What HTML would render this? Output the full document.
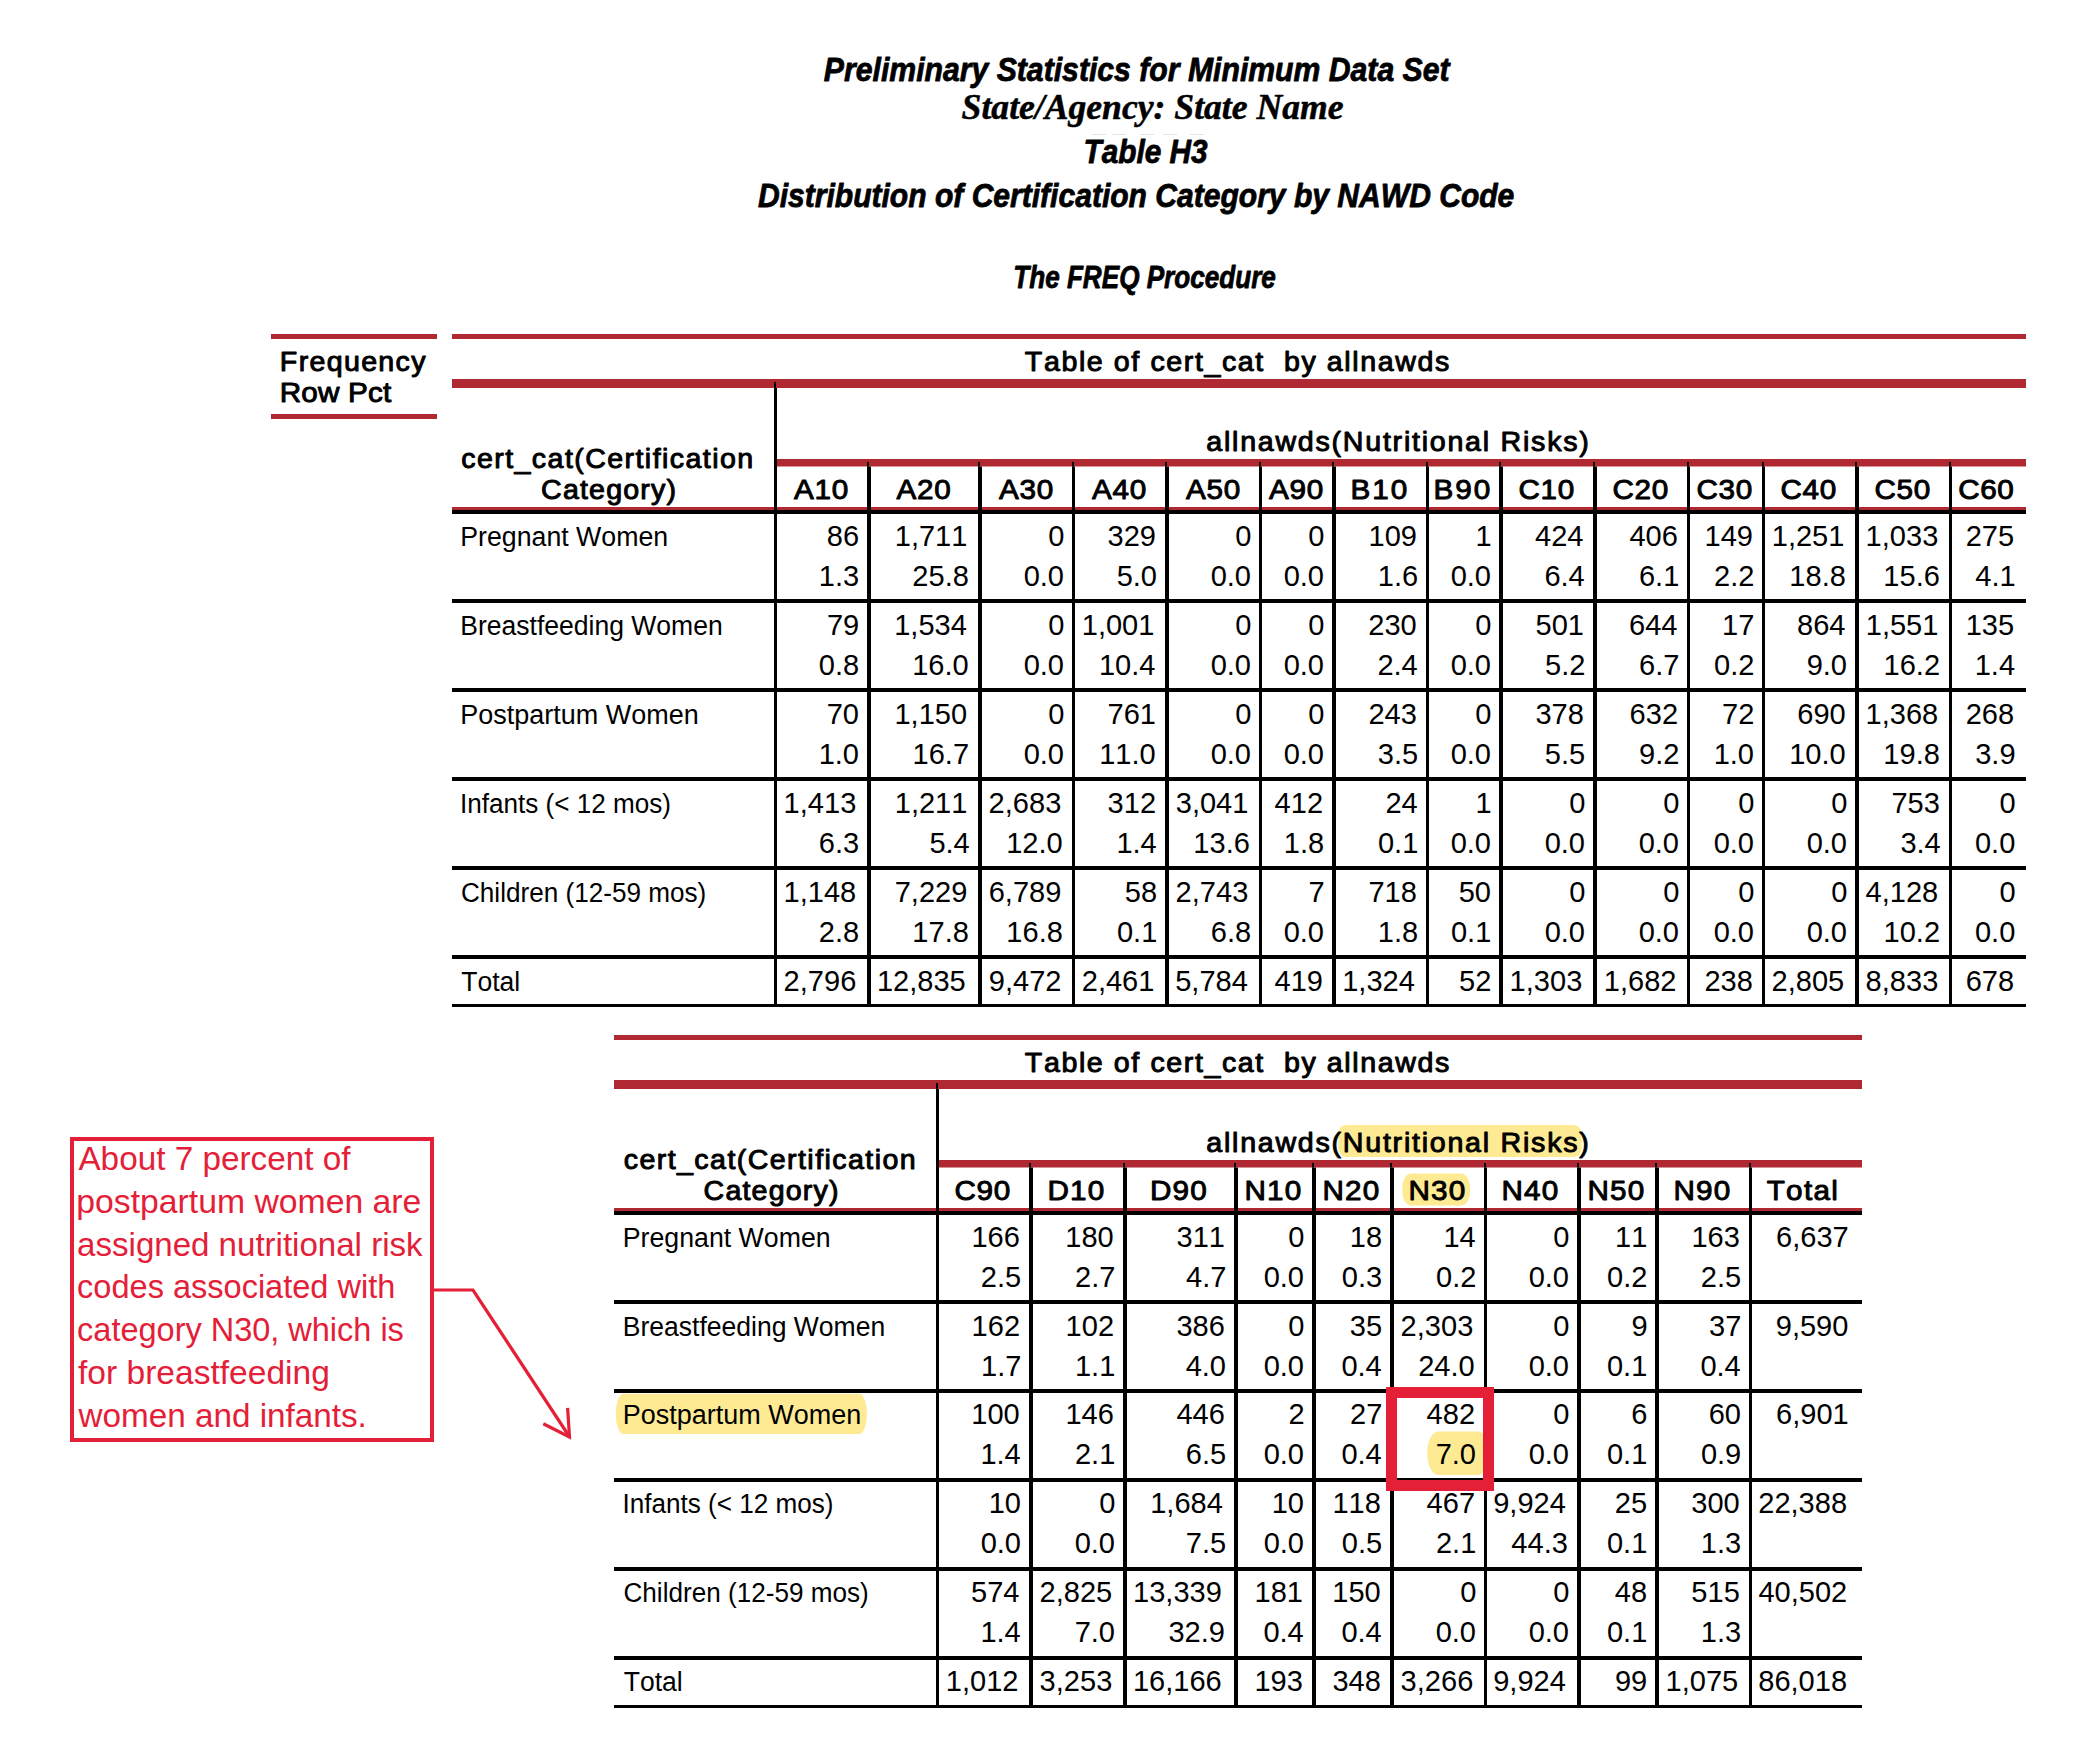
<!DOCTYPE html>
<html><head><meta charset="utf-8"><title>Table H3</title>
<style>html,body{margin:0;padding:0;background:#fff;overflow:hidden;}svg{display:block;}
text{font-kerning:none;font-variant-ligatures:none;white-space:pre;}</style></head>
<body><svg width="2097" height="1738" viewBox="0 0 2097 1738">
<rect width="2097" height="1738" fill="#fff"/>
<text x="823.87" y="81.00" font-family="Liberation Sans" font-weight="bold" font-style="italic" font-size="33.5" textLength="625.70" lengthAdjust="spacingAndGlyphs" fill="#000" stroke="#000" stroke-width="0.8" stroke-linejoin="round">Preliminary Statistics for Minimum Data Set</text>
<text x="961.61" y="118.70" font-family="Liberation Serif" font-weight="bold" font-style="italic" font-size="35" textLength="381.93" lengthAdjust="spacingAndGlyphs" fill="#000" stroke="#000" stroke-width="0.5" stroke-linejoin="round">State/Agency: State Name</text>
<rect x="1092.00" y="134.00" width="14.00" height="1.00" fill="#e4e4e4"/>
<rect x="1112.00" y="134.00" width="14.00" height="1.00" fill="#e4e4e4"/>
<rect x="1140.00" y="134.00" width="14.00" height="1.00" fill="#e4e4e4"/>
<rect x="1163.00" y="134.00" width="14.00" height="1.00" fill="#e4e4e4"/>
<rect x="1190.00" y="134.00" width="14.00" height="1.00" fill="#e4e4e4"/>
<text x="1083.59" y="163.10" font-family="Liberation Sans" font-weight="bold" font-style="italic" font-size="33.5" textLength="124.04" lengthAdjust="spacingAndGlyphs" fill="#000" stroke="#000" stroke-width="0.8" stroke-linejoin="round">Table H3</text>
<text x="757.97" y="207.00" font-family="Liberation Sans" font-weight="bold" font-style="italic" font-size="33.5" textLength="756.36" lengthAdjust="spacingAndGlyphs" fill="#000" stroke="#000" stroke-width="0.8" stroke-linejoin="round">Distribution of Certification Category by NAWD Code</text>
<text x="1013.25" y="288.10" font-family="Liberation Sans" font-weight="bold" font-style="italic" font-size="30.5" textLength="262.58" lengthAdjust="spacingAndGlyphs" fill="#000" stroke="#000" stroke-width="0.8" stroke-linejoin="round">The FREQ Procedure</text>
<rect x="271.00" y="334.00" width="166.00" height="5.00" fill="#B02832"/>
<rect x="271.00" y="414.00" width="166.00" height="5.00" fill="#B02832"/>
<text transform="translate(279.85,371.30) scale(1.06,1)" x="0" y="0" letter-spacing="1.236" font-family="Liberation Sans" font-weight="normal" font-style="normal" font-size="27" fill="#000" stroke="#000" stroke-width="0.943" stroke-linejoin="round">Frequency</text>
<text transform="translate(279.77,401.80) scale(1.06,1)" x="0" y="0" letter-spacing="0.165" font-family="Liberation Sans" font-weight="normal" font-style="normal" font-size="28" fill="#000" stroke="#000" stroke-width="0.943" stroke-linejoin="round">Row Pct</text>
<rect x="452.00" y="334.00" width="1574.00" height="5.00" fill="#B02832"/>
<text transform="translate(1024.86,370.70) scale(1.06,1)" x="0" y="0" letter-spacing="1.492" font-family="Liberation Sans" font-weight="normal" font-style="normal" font-size="27" fill="#000" stroke="#000" stroke-width="0.943" stroke-linejoin="round">Table of cert_cat  by allnawds</text>
<rect x="452.00" y="379.00" width="1574.00" height="9.00" fill="#B02832"/>
<text transform="translate(1206.28,450.90) scale(1.06,1)" x="0" y="0" letter-spacing="1.648" font-family="Liberation Sans" font-weight="normal" font-style="normal" font-size="27" fill="#000" stroke="#000" stroke-width="0.943" stroke-linejoin="round">allnawds(Nutritional Risks)</text>
<text transform="translate(461.18,467.80) scale(1.06,1)" x="0" y="0" letter-spacing="1.331" font-family="Liberation Sans" font-weight="normal" font-style="normal" font-size="27" fill="#000" stroke="#000" stroke-width="0.943" stroke-linejoin="round">cert_cat(Certification</text>
<text transform="translate(541.05,498.60) scale(1.06,1)" x="0" y="0" letter-spacing="1.105" font-family="Liberation Sans" font-weight="normal" font-style="normal" font-size="27" fill="#000" stroke="#000" stroke-width="0.943" stroke-linejoin="round">Category)</text>
<rect x="777.00" y="459.00" width="1249.00" height="7.50" fill="#B02832"/>
<rect x="452.00" y="507.00" width="1574.00" height="3.00" fill="#B02832"/>
<rect x="452.00" y="510.00" width="1574.00" height="4.00" fill="#000"/>
<rect x="452.00" y="599.00" width="1574.00" height="4.00" fill="#000"/>
<rect x="452.00" y="688.00" width="1574.00" height="4.00" fill="#000"/>
<rect x="452.00" y="777.00" width="1574.00" height="4.00" fill="#000"/>
<rect x="452.00" y="866.00" width="1574.00" height="4.00" fill="#000"/>
<rect x="452.00" y="955.00" width="1574.00" height="4.00" fill="#000"/>
<rect x="452.00" y="1004.00" width="1574.00" height="3.00" fill="#000"/>
<rect x="774.00" y="382.00" width="2.00" height="6.00" fill="#000"/>
<rect x="774.00" y="388.00" width="3.00" height="619.00" fill="#000"/>
<rect x="867.00" y="462.00" width="2.00" height="4.50" fill="#000"/>
<rect x="867.00" y="466.50" width="4.00" height="540.50" fill="#000"/>
<rect x="978.00" y="462.00" width="2.00" height="4.50" fill="#000"/>
<rect x="978.00" y="466.50" width="4.00" height="540.50" fill="#000"/>
<rect x="1072.00" y="462.00" width="2.00" height="4.50" fill="#000"/>
<rect x="1072.00" y="466.50" width="3.00" height="540.50" fill="#000"/>
<rect x="1165.00" y="462.00" width="2.00" height="4.50" fill="#000"/>
<rect x="1165.00" y="466.50" width="4.00" height="540.50" fill="#000"/>
<rect x="1259.00" y="462.00" width="2.00" height="4.50" fill="#000"/>
<rect x="1259.00" y="466.50" width="3.00" height="540.50" fill="#000"/>
<rect x="1332.00" y="462.00" width="2.00" height="4.50" fill="#000"/>
<rect x="1332.00" y="466.50" width="4.00" height="540.50" fill="#000"/>
<rect x="1426.00" y="462.00" width="2.00" height="4.50" fill="#000"/>
<rect x="1426.00" y="466.50" width="3.00" height="540.50" fill="#000"/>
<rect x="1499.00" y="462.00" width="2.00" height="4.50" fill="#000"/>
<rect x="1499.00" y="466.50" width="4.00" height="540.50" fill="#000"/>
<rect x="1593.00" y="462.00" width="2.00" height="4.50" fill="#000"/>
<rect x="1593.00" y="466.50" width="4.00" height="540.50" fill="#000"/>
<rect x="1687.00" y="462.00" width="2.00" height="4.50" fill="#000"/>
<rect x="1687.00" y="466.50" width="3.00" height="540.50" fill="#000"/>
<rect x="1762.00" y="462.00" width="2.00" height="4.50" fill="#000"/>
<rect x="1762.00" y="466.50" width="3.00" height="540.50" fill="#000"/>
<rect x="1855.00" y="462.00" width="2.00" height="4.50" fill="#000"/>
<rect x="1855.00" y="466.50" width="4.00" height="540.50" fill="#000"/>
<rect x="1949.00" y="462.00" width="2.00" height="4.50" fill="#000"/>
<rect x="1949.00" y="466.50" width="3.00" height="540.50" fill="#000"/>
<text transform="translate(793.94,499.40) scale(1.06,1)" x="0" y="0" letter-spacing="0.664" font-family="Liberation Sans" font-weight="normal" font-style="normal" font-size="28" fill="#000" stroke="#000" stroke-width="0.943" stroke-linejoin="round">A10</text>
<text transform="translate(896.44,499.40) scale(1.06,1)" x="0" y="0" letter-spacing="0.664" font-family="Liberation Sans" font-weight="normal" font-style="normal" font-size="28" fill="#000" stroke="#000" stroke-width="0.943" stroke-linejoin="round">A20</text>
<text transform="translate(998.94,499.40) scale(1.06,1)" x="0" y="0" letter-spacing="0.664" font-family="Liberation Sans" font-weight="normal" font-style="normal" font-size="28" fill="#000" stroke="#000" stroke-width="0.943" stroke-linejoin="round">A30</text>
<text transform="translate(1091.94,499.40) scale(1.06,1)" x="0" y="0" letter-spacing="0.664" font-family="Liberation Sans" font-weight="normal" font-style="normal" font-size="28" fill="#000" stroke="#000" stroke-width="0.943" stroke-linejoin="round">A40</text>
<text transform="translate(1185.94,499.40) scale(1.06,1)" x="0" y="0" letter-spacing="0.664" font-family="Liberation Sans" font-weight="normal" font-style="normal" font-size="28" fill="#000" stroke="#000" stroke-width="0.943" stroke-linejoin="round">A50</text>
<text transform="translate(1268.94,499.40) scale(1.06,1)" x="0" y="0" letter-spacing="0.664" font-family="Liberation Sans" font-weight="normal" font-style="normal" font-size="28" fill="#000" stroke="#000" stroke-width="0.943" stroke-linejoin="round">A90</text>
<text transform="translate(1350.57,499.40) scale(1.06,1)" x="0" y="0" letter-spacing="1.785" font-family="Liberation Sans" font-weight="normal" font-style="normal" font-size="28" fill="#000" stroke="#000" stroke-width="0.943" stroke-linejoin="round">B10</text>
<text transform="translate(1433.57,499.40) scale(1.06,1)" x="0" y="0" letter-spacing="1.785" font-family="Liberation Sans" font-weight="normal" font-style="normal" font-size="28" fill="#000" stroke="#000" stroke-width="0.943" stroke-linejoin="round">B90</text>
<text transform="translate(1518.49,499.40) scale(1.06,1)" x="0" y="0" letter-spacing="0.575" font-family="Liberation Sans" font-weight="normal" font-style="normal" font-size="28" fill="#000" stroke="#000" stroke-width="0.943" stroke-linejoin="round">C10</text>
<text transform="translate(1612.49,499.40) scale(1.06,1)" x="0" y="0" letter-spacing="0.575" font-family="Liberation Sans" font-weight="normal" font-style="normal" font-size="28" fill="#000" stroke="#000" stroke-width="0.943" stroke-linejoin="round">C20</text>
<text transform="translate(1696.49,499.40) scale(1.06,1)" x="0" y="0" letter-spacing="0.575" font-family="Liberation Sans" font-weight="normal" font-style="normal" font-size="28" fill="#000" stroke="#000" stroke-width="0.943" stroke-linejoin="round">C30</text>
<text transform="translate(1780.49,499.40) scale(1.06,1)" x="0" y="0" letter-spacing="0.575" font-family="Liberation Sans" font-weight="normal" font-style="normal" font-size="28" fill="#000" stroke="#000" stroke-width="0.943" stroke-linejoin="round">C40</text>
<text transform="translate(1874.49,499.40) scale(1.06,1)" x="0" y="0" letter-spacing="0.575" font-family="Liberation Sans" font-weight="normal" font-style="normal" font-size="28" fill="#000" stroke="#000" stroke-width="0.943" stroke-linejoin="round">C50</text>
<text transform="translate(1958.14,499.40) scale(1.06,1)" x="0" y="0" letter-spacing="0.575" font-family="Liberation Sans" font-weight="normal" font-style="normal" font-size="28" fill="#000" stroke="#000" stroke-width="0.943" stroke-linejoin="round">C60</text>
<text x="460.31" y="546.00" font-family="Liberation Sans" font-weight="normal" font-style="normal" font-size="27" textLength="207.83" lengthAdjust="spacingAndGlyphs" fill="#000">Pregnant Women</text>
<text x="460.32" y="635.00" font-family="Liberation Sans" font-weight="normal" font-style="normal" font-size="27" textLength="262.40" lengthAdjust="spacingAndGlyphs" fill="#000">Breastfeeding Women</text>
<text x="460.29" y="724.00" font-family="Liberation Sans" font-weight="normal" font-style="normal" font-size="27" textLength="238.47" lengthAdjust="spacingAndGlyphs" fill="#000">Postpartum Women</text>
<text x="459.89" y="813.00" font-family="Liberation Sans" font-weight="normal" font-style="normal" font-size="27" textLength="211.13" lengthAdjust="spacingAndGlyphs" fill="#000">Infants (&lt; 12 mos)</text>
<text x="460.97" y="902.00" font-family="Liberation Sans" font-weight="normal" font-style="normal" font-size="27" textLength="245.25" lengthAdjust="spacingAndGlyphs" fill="#000">Children (12-59 mos)</text>
<text x="461.20" y="991.00" font-family="Liberation Sans" font-weight="normal" font-style="normal" font-size="27" textLength="58.97" lengthAdjust="spacingAndGlyphs" fill="#000">Total</text>
<text x="826.87" y="546.00" font-family="Liberation Sans" font-weight="normal" font-style="normal" font-size="30" textLength="32.30" lengthAdjust="spacingAndGlyphs" fill="#000">86</text>
<text x="818.81" y="586.00" font-family="Liberation Sans" font-weight="normal" font-style="normal" font-size="30" textLength="40.37" lengthAdjust="spacingAndGlyphs" fill="#000">1.3</text>
<text x="894.75" y="546.00" font-family="Liberation Sans" font-weight="normal" font-style="normal" font-size="30" textLength="72.67" lengthAdjust="spacingAndGlyphs" fill="#000">1,711</text>
<text x="912.34" y="586.00" font-family="Liberation Sans" font-weight="normal" font-style="normal" font-size="30" textLength="56.52" lengthAdjust="spacingAndGlyphs" fill="#000">25.8</text>
<text x="1048.18" y="546.00" font-family="Liberation Sans" font-weight="normal" font-style="normal" font-size="30" textLength="16.15" lengthAdjust="spacingAndGlyphs" fill="#000">0</text>
<text x="1023.66" y="586.00" font-family="Liberation Sans" font-weight="normal" font-style="normal" font-size="30" textLength="40.37" lengthAdjust="spacingAndGlyphs" fill="#000">0.0</text>
<text x="1107.52" y="546.00" font-family="Liberation Sans" font-weight="normal" font-style="normal" font-size="30" textLength="48.45" lengthAdjust="spacingAndGlyphs" fill="#000">329</text>
<text x="1116.66" y="586.00" font-family="Liberation Sans" font-weight="normal" font-style="normal" font-size="30" textLength="40.37" lengthAdjust="spacingAndGlyphs" fill="#000">5.0</text>
<text x="1235.18" y="546.00" font-family="Liberation Sans" font-weight="normal" font-style="normal" font-size="30" textLength="16.15" lengthAdjust="spacingAndGlyphs" fill="#000">0</text>
<text x="1210.66" y="586.00" font-family="Liberation Sans" font-weight="normal" font-style="normal" font-size="30" textLength="40.37" lengthAdjust="spacingAndGlyphs" fill="#000">0.0</text>
<text x="1308.18" y="546.00" font-family="Liberation Sans" font-weight="normal" font-style="normal" font-size="30" textLength="16.15" lengthAdjust="spacingAndGlyphs" fill="#000">0</text>
<text x="1283.66" y="586.00" font-family="Liberation Sans" font-weight="normal" font-style="normal" font-size="30" textLength="40.37" lengthAdjust="spacingAndGlyphs" fill="#000">0.0</text>
<text x="1368.52" y="546.00" font-family="Liberation Sans" font-weight="normal" font-style="normal" font-size="30" textLength="48.45" lengthAdjust="spacingAndGlyphs" fill="#000">109</text>
<text x="1377.81" y="586.00" font-family="Liberation Sans" font-weight="normal" font-style="normal" font-size="30" textLength="40.37" lengthAdjust="spacingAndGlyphs" fill="#000">1.6</text>
<text x="1475.47" y="546.00" font-family="Liberation Sans" font-weight="normal" font-style="normal" font-size="30" textLength="16.15" lengthAdjust="spacingAndGlyphs" fill="#000">1</text>
<text x="1450.66" y="586.00" font-family="Liberation Sans" font-weight="normal" font-style="normal" font-size="30" textLength="40.37" lengthAdjust="spacingAndGlyphs" fill="#000">0.0</text>
<text x="1535.00" y="546.00" font-family="Liberation Sans" font-weight="normal" font-style="normal" font-size="30" textLength="48.45" lengthAdjust="spacingAndGlyphs" fill="#000">424</text>
<text x="1544.38" y="586.00" font-family="Liberation Sans" font-weight="normal" font-style="normal" font-size="30" textLength="40.37" lengthAdjust="spacingAndGlyphs" fill="#000">6.4</text>
<text x="1629.42" y="546.00" font-family="Liberation Sans" font-weight="normal" font-style="normal" font-size="30" textLength="48.45" lengthAdjust="spacingAndGlyphs" fill="#000">406</text>
<text x="1638.95" y="586.00" font-family="Liberation Sans" font-weight="normal" font-style="normal" font-size="30" textLength="40.37" lengthAdjust="spacingAndGlyphs" fill="#000">6.1</text>
<text x="1704.52" y="546.00" font-family="Liberation Sans" font-weight="normal" font-style="normal" font-size="30" textLength="48.45" lengthAdjust="spacingAndGlyphs" fill="#000">149</text>
<text x="1713.99" y="586.00" font-family="Liberation Sans" font-weight="normal" font-style="normal" font-size="30" textLength="40.37" lengthAdjust="spacingAndGlyphs" fill="#000">2.2</text>
<text x="1771.75" y="546.00" font-family="Liberation Sans" font-weight="normal" font-style="normal" font-size="30" textLength="72.67" lengthAdjust="spacingAndGlyphs" fill="#000">1,251</text>
<text x="1789.34" y="586.00" font-family="Liberation Sans" font-weight="normal" font-style="normal" font-size="30" textLength="56.52" lengthAdjust="spacingAndGlyphs" fill="#000">18.8</text>
<text x="1865.61" y="546.00" font-family="Liberation Sans" font-weight="normal" font-style="normal" font-size="30" textLength="72.67" lengthAdjust="spacingAndGlyphs" fill="#000">1,033</text>
<text x="1883.36" y="586.00" font-family="Liberation Sans" font-weight="normal" font-style="normal" font-size="30" textLength="56.52" lengthAdjust="spacingAndGlyphs" fill="#000">15.6</text>
<text x="1965.67" y="546.00" font-family="Liberation Sans" font-weight="normal" font-style="normal" font-size="30" textLength="48.45" lengthAdjust="spacingAndGlyphs" fill="#000">275</text>
<text x="1975.25" y="586.00" font-family="Liberation Sans" font-weight="normal" font-style="normal" font-size="30" textLength="40.37" lengthAdjust="spacingAndGlyphs" fill="#000">4.1</text>
<text x="826.97" y="635.00" font-family="Liberation Sans" font-weight="normal" font-style="normal" font-size="30" textLength="32.30" lengthAdjust="spacingAndGlyphs" fill="#000">79</text>
<text x="818.79" y="675.00" font-family="Liberation Sans" font-weight="normal" font-style="normal" font-size="30" textLength="40.37" lengthAdjust="spacingAndGlyphs" fill="#000">0.8</text>
<text x="894.18" y="635.00" font-family="Liberation Sans" font-weight="normal" font-style="normal" font-size="30" textLength="72.67" lengthAdjust="spacingAndGlyphs" fill="#000">1,534</text>
<text x="912.21" y="675.00" font-family="Liberation Sans" font-weight="normal" font-style="normal" font-size="30" textLength="56.52" lengthAdjust="spacingAndGlyphs" fill="#000">16.0</text>
<text x="1048.18" y="635.00" font-family="Liberation Sans" font-weight="normal" font-style="normal" font-size="30" textLength="16.15" lengthAdjust="spacingAndGlyphs" fill="#000">0</text>
<text x="1023.66" y="675.00" font-family="Liberation Sans" font-weight="normal" font-style="normal" font-size="30" textLength="40.37" lengthAdjust="spacingAndGlyphs" fill="#000">0.0</text>
<text x="1081.75" y="635.00" font-family="Liberation Sans" font-weight="normal" font-style="normal" font-size="30" textLength="72.67" lengthAdjust="spacingAndGlyphs" fill="#000">1,001</text>
<text x="1098.93" y="675.00" font-family="Liberation Sans" font-weight="normal" font-style="normal" font-size="30" textLength="56.52" lengthAdjust="spacingAndGlyphs" fill="#000">10.4</text>
<text x="1235.18" y="635.00" font-family="Liberation Sans" font-weight="normal" font-style="normal" font-size="30" textLength="16.15" lengthAdjust="spacingAndGlyphs" fill="#000">0</text>
<text x="1210.66" y="675.00" font-family="Liberation Sans" font-weight="normal" font-style="normal" font-size="30" textLength="40.37" lengthAdjust="spacingAndGlyphs" fill="#000">0.0</text>
<text x="1308.18" y="635.00" font-family="Liberation Sans" font-weight="normal" font-style="normal" font-size="30" textLength="16.15" lengthAdjust="spacingAndGlyphs" fill="#000">0</text>
<text x="1283.66" y="675.00" font-family="Liberation Sans" font-weight="normal" font-style="normal" font-size="30" textLength="40.37" lengthAdjust="spacingAndGlyphs" fill="#000">0.0</text>
<text x="1368.28" y="635.00" font-family="Liberation Sans" font-weight="normal" font-style="normal" font-size="30" textLength="48.45" lengthAdjust="spacingAndGlyphs" fill="#000">230</text>
<text x="1377.38" y="675.00" font-family="Liberation Sans" font-weight="normal" font-style="normal" font-size="30" textLength="40.37" lengthAdjust="spacingAndGlyphs" fill="#000">2.4</text>
<text x="1475.18" y="635.00" font-family="Liberation Sans" font-weight="normal" font-style="normal" font-size="30" textLength="16.15" lengthAdjust="spacingAndGlyphs" fill="#000">0</text>
<text x="1450.66" y="675.00" font-family="Liberation Sans" font-weight="normal" font-style="normal" font-size="30" textLength="40.37" lengthAdjust="spacingAndGlyphs" fill="#000">0.0</text>
<text x="1535.57" y="635.00" font-family="Liberation Sans" font-weight="normal" font-style="normal" font-size="30" textLength="48.45" lengthAdjust="spacingAndGlyphs" fill="#000">501</text>
<text x="1544.99" y="675.00" font-family="Liberation Sans" font-weight="normal" font-style="normal" font-size="30" textLength="40.37" lengthAdjust="spacingAndGlyphs" fill="#000">5.2</text>
<text x="1629.00" y="635.00" font-family="Liberation Sans" font-weight="normal" font-style="normal" font-size="30" textLength="48.45" lengthAdjust="spacingAndGlyphs" fill="#000">644</text>
<text x="1638.99" y="675.00" font-family="Liberation Sans" font-weight="normal" font-style="normal" font-size="30" textLength="40.37" lengthAdjust="spacingAndGlyphs" fill="#000">6.7</text>
<text x="1722.06" y="635.00" font-family="Liberation Sans" font-weight="normal" font-style="normal" font-size="30" textLength="32.30" lengthAdjust="spacingAndGlyphs" fill="#000">17</text>
<text x="1713.99" y="675.00" font-family="Liberation Sans" font-weight="normal" font-style="normal" font-size="30" textLength="40.37" lengthAdjust="spacingAndGlyphs" fill="#000">0.2</text>
<text x="1797.00" y="635.00" font-family="Liberation Sans" font-weight="normal" font-style="normal" font-size="30" textLength="48.45" lengthAdjust="spacingAndGlyphs" fill="#000">864</text>
<text x="1806.66" y="675.00" font-family="Liberation Sans" font-weight="normal" font-style="normal" font-size="30" textLength="40.37" lengthAdjust="spacingAndGlyphs" fill="#000">9.0</text>
<text x="1865.75" y="635.00" font-family="Liberation Sans" font-weight="normal" font-style="normal" font-size="30" textLength="72.67" lengthAdjust="spacingAndGlyphs" fill="#000">1,551</text>
<text x="1883.54" y="675.00" font-family="Liberation Sans" font-weight="normal" font-style="normal" font-size="30" textLength="56.52" lengthAdjust="spacingAndGlyphs" fill="#000">16.2</text>
<text x="1965.67" y="635.00" font-family="Liberation Sans" font-weight="normal" font-style="normal" font-size="30" textLength="48.45" lengthAdjust="spacingAndGlyphs" fill="#000">135</text>
<text x="1974.68" y="675.00" font-family="Liberation Sans" font-weight="normal" font-style="normal" font-size="30" textLength="40.37" lengthAdjust="spacingAndGlyphs" fill="#000">1.4</text>
<text x="826.73" y="724.00" font-family="Liberation Sans" font-weight="normal" font-style="normal" font-size="30" textLength="32.30" lengthAdjust="spacingAndGlyphs" fill="#000">70</text>
<text x="818.66" y="764.00" font-family="Liberation Sans" font-weight="normal" font-style="normal" font-size="30" textLength="40.37" lengthAdjust="spacingAndGlyphs" fill="#000">1.0</text>
<text x="894.46" y="724.00" font-family="Liberation Sans" font-weight="normal" font-style="normal" font-size="30" textLength="72.67" lengthAdjust="spacingAndGlyphs" fill="#000">1,150</text>
<text x="912.54" y="764.00" font-family="Liberation Sans" font-weight="normal" font-style="normal" font-size="30" textLength="56.52" lengthAdjust="spacingAndGlyphs" fill="#000">16.7</text>
<text x="1048.18" y="724.00" font-family="Liberation Sans" font-weight="normal" font-style="normal" font-size="30" textLength="16.15" lengthAdjust="spacingAndGlyphs" fill="#000">0</text>
<text x="1023.66" y="764.00" font-family="Liberation Sans" font-weight="normal" font-style="normal" font-size="30" textLength="40.37" lengthAdjust="spacingAndGlyphs" fill="#000">0.0</text>
<text x="1107.57" y="724.00" font-family="Liberation Sans" font-weight="normal" font-style="normal" font-size="30" textLength="48.45" lengthAdjust="spacingAndGlyphs" fill="#000">761</text>
<text x="1099.21" y="764.00" font-family="Liberation Sans" font-weight="normal" font-style="normal" font-size="30" textLength="56.52" lengthAdjust="spacingAndGlyphs" fill="#000">11.0</text>
<text x="1235.18" y="724.00" font-family="Liberation Sans" font-weight="normal" font-style="normal" font-size="30" textLength="16.15" lengthAdjust="spacingAndGlyphs" fill="#000">0</text>
<text x="1210.66" y="764.00" font-family="Liberation Sans" font-weight="normal" font-style="normal" font-size="30" textLength="40.37" lengthAdjust="spacingAndGlyphs" fill="#000">0.0</text>
<text x="1308.18" y="724.00" font-family="Liberation Sans" font-weight="normal" font-style="normal" font-size="30" textLength="16.15" lengthAdjust="spacingAndGlyphs" fill="#000">0</text>
<text x="1283.66" y="764.00" font-family="Liberation Sans" font-weight="normal" font-style="normal" font-size="30" textLength="40.37" lengthAdjust="spacingAndGlyphs" fill="#000">0.0</text>
<text x="1368.42" y="724.00" font-family="Liberation Sans" font-weight="normal" font-style="normal" font-size="30" textLength="48.45" lengthAdjust="spacingAndGlyphs" fill="#000">243</text>
<text x="1377.75" y="764.00" font-family="Liberation Sans" font-weight="normal" font-style="normal" font-size="30" textLength="40.37" lengthAdjust="spacingAndGlyphs" fill="#000">3.5</text>
<text x="1475.18" y="724.00" font-family="Liberation Sans" font-weight="normal" font-style="normal" font-size="30" textLength="16.15" lengthAdjust="spacingAndGlyphs" fill="#000">0</text>
<text x="1450.66" y="764.00" font-family="Liberation Sans" font-weight="normal" font-style="normal" font-size="30" textLength="40.37" lengthAdjust="spacingAndGlyphs" fill="#000">0.0</text>
<text x="1535.41" y="724.00" font-family="Liberation Sans" font-weight="normal" font-style="normal" font-size="30" textLength="48.45" lengthAdjust="spacingAndGlyphs" fill="#000">378</text>
<text x="1544.75" y="764.00" font-family="Liberation Sans" font-weight="normal" font-style="normal" font-size="30" textLength="40.37" lengthAdjust="spacingAndGlyphs" fill="#000">5.5</text>
<text x="1629.61" y="724.00" font-family="Liberation Sans" font-weight="normal" font-style="normal" font-size="30" textLength="48.45" lengthAdjust="spacingAndGlyphs" fill="#000">632</text>
<text x="1638.99" y="764.00" font-family="Liberation Sans" font-weight="normal" font-style="normal" font-size="30" textLength="40.37" lengthAdjust="spacingAndGlyphs" fill="#000">9.2</text>
<text x="1722.06" y="724.00" font-family="Liberation Sans" font-weight="normal" font-style="normal" font-size="30" textLength="32.30" lengthAdjust="spacingAndGlyphs" fill="#000">72</text>
<text x="1713.66" y="764.00" font-family="Liberation Sans" font-weight="normal" font-style="normal" font-size="30" textLength="40.37" lengthAdjust="spacingAndGlyphs" fill="#000">1.0</text>
<text x="1797.28" y="724.00" font-family="Liberation Sans" font-weight="normal" font-style="normal" font-size="30" textLength="48.45" lengthAdjust="spacingAndGlyphs" fill="#000">690</text>
<text x="1789.21" y="764.00" font-family="Liberation Sans" font-weight="normal" font-style="normal" font-size="30" textLength="56.52" lengthAdjust="spacingAndGlyphs" fill="#000">10.0</text>
<text x="1865.59" y="724.00" font-family="Liberation Sans" font-weight="normal" font-style="normal" font-size="30" textLength="72.67" lengthAdjust="spacingAndGlyphs" fill="#000">1,368</text>
<text x="1883.34" y="764.00" font-family="Liberation Sans" font-weight="normal" font-style="normal" font-size="30" textLength="56.52" lengthAdjust="spacingAndGlyphs" fill="#000">19.8</text>
<text x="1965.71" y="724.00" font-family="Liberation Sans" font-weight="normal" font-style="normal" font-size="30" textLength="48.45" lengthAdjust="spacingAndGlyphs" fill="#000">268</text>
<text x="1975.21" y="764.00" font-family="Liberation Sans" font-weight="normal" font-style="normal" font-size="30" textLength="40.37" lengthAdjust="spacingAndGlyphs" fill="#000">3.9</text>
<text x="783.61" y="813.00" font-family="Liberation Sans" font-weight="normal" font-style="normal" font-size="30" textLength="72.67" lengthAdjust="spacingAndGlyphs" fill="#000">1,413</text>
<text x="818.81" y="853.00" font-family="Liberation Sans" font-weight="normal" font-style="normal" font-size="30" textLength="40.37" lengthAdjust="spacingAndGlyphs" fill="#000">6.3</text>
<text x="894.75" y="813.00" font-family="Liberation Sans" font-weight="normal" font-style="normal" font-size="30" textLength="72.67" lengthAdjust="spacingAndGlyphs" fill="#000">1,211</text>
<text x="929.38" y="853.00" font-family="Liberation Sans" font-weight="normal" font-style="normal" font-size="30" textLength="40.37" lengthAdjust="spacingAndGlyphs" fill="#000">5.4</text>
<text x="988.61" y="813.00" font-family="Liberation Sans" font-weight="normal" font-style="normal" font-size="30" textLength="72.67" lengthAdjust="spacingAndGlyphs" fill="#000">2,683</text>
<text x="1006.21" y="853.00" font-family="Liberation Sans" font-weight="normal" font-style="normal" font-size="30" textLength="56.52" lengthAdjust="spacingAndGlyphs" fill="#000">12.0</text>
<text x="1107.61" y="813.00" font-family="Liberation Sans" font-weight="normal" font-style="normal" font-size="30" textLength="48.45" lengthAdjust="spacingAndGlyphs" fill="#000">312</text>
<text x="1116.38" y="853.00" font-family="Liberation Sans" font-weight="normal" font-style="normal" font-size="30" textLength="40.37" lengthAdjust="spacingAndGlyphs" fill="#000">1.4</text>
<text x="1175.75" y="813.00" font-family="Liberation Sans" font-weight="normal" font-style="normal" font-size="30" textLength="72.67" lengthAdjust="spacingAndGlyphs" fill="#000">3,041</text>
<text x="1193.36" y="853.00" font-family="Liberation Sans" font-weight="normal" font-style="normal" font-size="30" textLength="56.52" lengthAdjust="spacingAndGlyphs" fill="#000">13.6</text>
<text x="1274.61" y="813.00" font-family="Liberation Sans" font-weight="normal" font-style="normal" font-size="30" textLength="48.45" lengthAdjust="spacingAndGlyphs" fill="#000">412</text>
<text x="1283.79" y="853.00" font-family="Liberation Sans" font-weight="normal" font-style="normal" font-size="30" textLength="40.37" lengthAdjust="spacingAndGlyphs" fill="#000">1.8</text>
<text x="1385.45" y="813.00" font-family="Liberation Sans" font-weight="normal" font-style="normal" font-size="30" textLength="32.30" lengthAdjust="spacingAndGlyphs" fill="#000">24</text>
<text x="1377.95" y="853.00" font-family="Liberation Sans" font-weight="normal" font-style="normal" font-size="30" textLength="40.37" lengthAdjust="spacingAndGlyphs" fill="#000">0.1</text>
<text x="1475.47" y="813.00" font-family="Liberation Sans" font-weight="normal" font-style="normal" font-size="30" textLength="16.15" lengthAdjust="spacingAndGlyphs" fill="#000">1</text>
<text x="1450.66" y="853.00" font-family="Liberation Sans" font-weight="normal" font-style="normal" font-size="30" textLength="40.37" lengthAdjust="spacingAndGlyphs" fill="#000">0.0</text>
<text x="1569.18" y="813.00" font-family="Liberation Sans" font-weight="normal" font-style="normal" font-size="30" textLength="16.15" lengthAdjust="spacingAndGlyphs" fill="#000">0</text>
<text x="1544.66" y="853.00" font-family="Liberation Sans" font-weight="normal" font-style="normal" font-size="30" textLength="40.37" lengthAdjust="spacingAndGlyphs" fill="#000">0.0</text>
<text x="1663.18" y="813.00" font-family="Liberation Sans" font-weight="normal" font-style="normal" font-size="30" textLength="16.15" lengthAdjust="spacingAndGlyphs" fill="#000">0</text>
<text x="1638.66" y="853.00" font-family="Liberation Sans" font-weight="normal" font-style="normal" font-size="30" textLength="40.37" lengthAdjust="spacingAndGlyphs" fill="#000">0.0</text>
<text x="1738.18" y="813.00" font-family="Liberation Sans" font-weight="normal" font-style="normal" font-size="30" textLength="16.15" lengthAdjust="spacingAndGlyphs" fill="#000">0</text>
<text x="1713.66" y="853.00" font-family="Liberation Sans" font-weight="normal" font-style="normal" font-size="30" textLength="40.37" lengthAdjust="spacingAndGlyphs" fill="#000">0.0</text>
<text x="1831.18" y="813.00" font-family="Liberation Sans" font-weight="normal" font-style="normal" font-size="30" textLength="16.15" lengthAdjust="spacingAndGlyphs" fill="#000">0</text>
<text x="1806.66" y="853.00" font-family="Liberation Sans" font-weight="normal" font-style="normal" font-size="30" textLength="40.37" lengthAdjust="spacingAndGlyphs" fill="#000">0.0</text>
<text x="1891.42" y="813.00" font-family="Liberation Sans" font-weight="normal" font-style="normal" font-size="30" textLength="48.45" lengthAdjust="spacingAndGlyphs" fill="#000">753</text>
<text x="1900.38" y="853.00" font-family="Liberation Sans" font-weight="normal" font-style="normal" font-size="30" textLength="40.37" lengthAdjust="spacingAndGlyphs" fill="#000">3.4</text>
<text x="1999.48" y="813.00" font-family="Liberation Sans" font-weight="normal" font-style="normal" font-size="30" textLength="16.15" lengthAdjust="spacingAndGlyphs" fill="#000">0</text>
<text x="1974.96" y="853.00" font-family="Liberation Sans" font-weight="normal" font-style="normal" font-size="30" textLength="40.37" lengthAdjust="spacingAndGlyphs" fill="#000">0.0</text>
<text x="783.59" y="902.00" font-family="Liberation Sans" font-weight="normal" font-style="normal" font-size="30" textLength="72.67" lengthAdjust="spacingAndGlyphs" fill="#000">1,148</text>
<text x="818.79" y="942.00" font-family="Liberation Sans" font-weight="normal" font-style="normal" font-size="30" textLength="40.37" lengthAdjust="spacingAndGlyphs" fill="#000">2.8</text>
<text x="894.70" y="902.00" font-family="Liberation Sans" font-weight="normal" font-style="normal" font-size="30" textLength="72.67" lengthAdjust="spacingAndGlyphs" fill="#000">7,229</text>
<text x="912.34" y="942.00" font-family="Liberation Sans" font-weight="normal" font-style="normal" font-size="30" textLength="56.52" lengthAdjust="spacingAndGlyphs" fill="#000">17.8</text>
<text x="988.70" y="902.00" font-family="Liberation Sans" font-weight="normal" font-style="normal" font-size="30" textLength="72.67" lengthAdjust="spacingAndGlyphs" fill="#000">6,789</text>
<text x="1006.34" y="942.00" font-family="Liberation Sans" font-weight="normal" font-style="normal" font-size="30" textLength="56.52" lengthAdjust="spacingAndGlyphs" fill="#000">16.8</text>
<text x="1124.86" y="902.00" font-family="Liberation Sans" font-weight="normal" font-style="normal" font-size="30" textLength="32.30" lengthAdjust="spacingAndGlyphs" fill="#000">58</text>
<text x="1116.95" y="942.00" font-family="Liberation Sans" font-weight="normal" font-style="normal" font-size="30" textLength="40.37" lengthAdjust="spacingAndGlyphs" fill="#000">0.1</text>
<text x="1175.61" y="902.00" font-family="Liberation Sans" font-weight="normal" font-style="normal" font-size="30" textLength="72.67" lengthAdjust="spacingAndGlyphs" fill="#000">2,743</text>
<text x="1210.79" y="942.00" font-family="Liberation Sans" font-weight="normal" font-style="normal" font-size="30" textLength="40.37" lengthAdjust="spacingAndGlyphs" fill="#000">6.8</text>
<text x="1308.51" y="902.00" font-family="Liberation Sans" font-weight="normal" font-style="normal" font-size="30" textLength="16.15" lengthAdjust="spacingAndGlyphs" fill="#000">7</text>
<text x="1283.66" y="942.00" font-family="Liberation Sans" font-weight="normal" font-style="normal" font-size="30" textLength="40.37" lengthAdjust="spacingAndGlyphs" fill="#000">0.0</text>
<text x="1368.41" y="902.00" font-family="Liberation Sans" font-weight="normal" font-style="normal" font-size="30" textLength="48.45" lengthAdjust="spacingAndGlyphs" fill="#000">718</text>
<text x="1377.79" y="942.00" font-family="Liberation Sans" font-weight="normal" font-style="normal" font-size="30" textLength="40.37" lengthAdjust="spacingAndGlyphs" fill="#000">1.8</text>
<text x="1458.73" y="902.00" font-family="Liberation Sans" font-weight="normal" font-style="normal" font-size="30" textLength="32.30" lengthAdjust="spacingAndGlyphs" fill="#000">50</text>
<text x="1450.95" y="942.00" font-family="Liberation Sans" font-weight="normal" font-style="normal" font-size="30" textLength="40.37" lengthAdjust="spacingAndGlyphs" fill="#000">0.1</text>
<text x="1569.18" y="902.00" font-family="Liberation Sans" font-weight="normal" font-style="normal" font-size="30" textLength="16.15" lengthAdjust="spacingAndGlyphs" fill="#000">0</text>
<text x="1544.66" y="942.00" font-family="Liberation Sans" font-weight="normal" font-style="normal" font-size="30" textLength="40.37" lengthAdjust="spacingAndGlyphs" fill="#000">0.0</text>
<text x="1663.18" y="902.00" font-family="Liberation Sans" font-weight="normal" font-style="normal" font-size="30" textLength="16.15" lengthAdjust="spacingAndGlyphs" fill="#000">0</text>
<text x="1638.66" y="942.00" font-family="Liberation Sans" font-weight="normal" font-style="normal" font-size="30" textLength="40.37" lengthAdjust="spacingAndGlyphs" fill="#000">0.0</text>
<text x="1738.18" y="902.00" font-family="Liberation Sans" font-weight="normal" font-style="normal" font-size="30" textLength="16.15" lengthAdjust="spacingAndGlyphs" fill="#000">0</text>
<text x="1713.66" y="942.00" font-family="Liberation Sans" font-weight="normal" font-style="normal" font-size="30" textLength="40.37" lengthAdjust="spacingAndGlyphs" fill="#000">0.0</text>
<text x="1831.18" y="902.00" font-family="Liberation Sans" font-weight="normal" font-style="normal" font-size="30" textLength="16.15" lengthAdjust="spacingAndGlyphs" fill="#000">0</text>
<text x="1806.66" y="942.00" font-family="Liberation Sans" font-weight="normal" font-style="normal" font-size="30" textLength="40.37" lengthAdjust="spacingAndGlyphs" fill="#000">0.0</text>
<text x="1865.59" y="902.00" font-family="Liberation Sans" font-weight="normal" font-style="normal" font-size="30" textLength="72.67" lengthAdjust="spacingAndGlyphs" fill="#000">4,128</text>
<text x="1883.54" y="942.00" font-family="Liberation Sans" font-weight="normal" font-style="normal" font-size="30" textLength="56.52" lengthAdjust="spacingAndGlyphs" fill="#000">10.2</text>
<text x="1999.48" y="902.00" font-family="Liberation Sans" font-weight="normal" font-style="normal" font-size="30" textLength="16.15" lengthAdjust="spacingAndGlyphs" fill="#000">0</text>
<text x="1974.96" y="942.00" font-family="Liberation Sans" font-weight="normal" font-style="normal" font-size="30" textLength="40.37" lengthAdjust="spacingAndGlyphs" fill="#000">0.0</text>
<text x="783.61" y="991.00" font-family="Liberation Sans" font-weight="normal" font-style="normal" font-size="30" textLength="72.67" lengthAdjust="spacingAndGlyphs" fill="#000">2,796</text>
<text x="876.90" y="991.00" font-family="Liberation Sans" font-weight="normal" font-style="normal" font-size="30" textLength="88.82" lengthAdjust="spacingAndGlyphs" fill="#000">12,835</text>
<text x="988.79" y="991.00" font-family="Liberation Sans" font-weight="normal" font-style="normal" font-size="30" textLength="72.67" lengthAdjust="spacingAndGlyphs" fill="#000">9,472</text>
<text x="1081.75" y="991.00" font-family="Liberation Sans" font-weight="normal" font-style="normal" font-size="30" textLength="72.67" lengthAdjust="spacingAndGlyphs" fill="#000">2,461</text>
<text x="1175.18" y="991.00" font-family="Liberation Sans" font-weight="normal" font-style="normal" font-size="30" textLength="72.67" lengthAdjust="spacingAndGlyphs" fill="#000">5,784</text>
<text x="1274.52" y="991.00" font-family="Liberation Sans" font-weight="normal" font-style="normal" font-size="30" textLength="48.45" lengthAdjust="spacingAndGlyphs" fill="#000">419</text>
<text x="1342.18" y="991.00" font-family="Liberation Sans" font-weight="normal" font-style="normal" font-size="30" textLength="72.67" lengthAdjust="spacingAndGlyphs" fill="#000">1,324</text>
<text x="1459.06" y="991.00" font-family="Liberation Sans" font-weight="normal" font-style="normal" font-size="30" textLength="32.30" lengthAdjust="spacingAndGlyphs" fill="#000">52</text>
<text x="1509.61" y="991.00" font-family="Liberation Sans" font-weight="normal" font-style="normal" font-size="30" textLength="72.67" lengthAdjust="spacingAndGlyphs" fill="#000">1,303</text>
<text x="1603.79" y="991.00" font-family="Liberation Sans" font-weight="normal" font-style="normal" font-size="30" textLength="72.67" lengthAdjust="spacingAndGlyphs" fill="#000">1,682</text>
<text x="1704.41" y="991.00" font-family="Liberation Sans" font-weight="normal" font-style="normal" font-size="30" textLength="48.45" lengthAdjust="spacingAndGlyphs" fill="#000">238</text>
<text x="1771.55" y="991.00" font-family="Liberation Sans" font-weight="normal" font-style="normal" font-size="30" textLength="72.67" lengthAdjust="spacingAndGlyphs" fill="#000">2,805</text>
<text x="1865.61" y="991.00" font-family="Liberation Sans" font-weight="normal" font-style="normal" font-size="30" textLength="72.67" lengthAdjust="spacingAndGlyphs" fill="#000">8,833</text>
<text x="1965.71" y="991.00" font-family="Liberation Sans" font-weight="normal" font-style="normal" font-size="30" textLength="48.45" lengthAdjust="spacingAndGlyphs" fill="#000">678</text>
<rect x="614.00" y="1035.00" width="1248.00" height="5.00" fill="#B02832"/>
<text transform="translate(1024.86,1071.70) scale(1.06,1)" x="0" y="0" letter-spacing="1.492" font-family="Liberation Sans" font-weight="normal" font-style="normal" font-size="27" fill="#000" stroke="#000" stroke-width="0.943" stroke-linejoin="round">Table of cert_cat  by allnawds</text>
<rect x="614.00" y="1080.00" width="1248.00" height="9.00" fill="#B02832"/>
<rect x="1338.2" y="1125" width="243.3" height="32" rx="7" ry="9" fill="#FFEA94"/>
<rect x="1402.3" y="1173.5" width="67.7" height="32" rx="9" ry="14" fill="#FFEA94"/>
<rect x="615.7" y="1393.7" width="251.3" height="40.4" rx="8" ry="20.2" fill="#FFEA94"/>
<rect x="1427.2" y="1431.4" width="62" height="43.6" rx="11" ry="21.8" fill="#FFEA94"/>
<text transform="translate(1206.28,1151.90) scale(1.06,1)" x="0" y="0" letter-spacing="1.648" font-family="Liberation Sans" font-weight="normal" font-style="normal" font-size="27" fill="#000" stroke="#000" stroke-width="0.943" stroke-linejoin="round">allnawds(Nutritional Risks)</text>
<text transform="translate(623.68,1168.80) scale(1.06,1)" x="0" y="0" letter-spacing="1.331" font-family="Liberation Sans" font-weight="normal" font-style="normal" font-size="27" fill="#000" stroke="#000" stroke-width="0.943" stroke-linejoin="round">cert_cat(Certification</text>
<text transform="translate(703.55,1199.60) scale(1.06,1)" x="0" y="0" letter-spacing="1.105" font-family="Liberation Sans" font-weight="normal" font-style="normal" font-size="27" fill="#000" stroke="#000" stroke-width="0.943" stroke-linejoin="round">Category)</text>
<rect x="939.00" y="1160.00" width="923.00" height="7.50" fill="#B02832"/>
<rect x="614.00" y="1208.00" width="1248.00" height="3.00" fill="#B02832"/>
<rect x="614.00" y="1211.00" width="1248.00" height="4.00" fill="#000"/>
<rect x="614.00" y="1300.00" width="1248.00" height="4.00" fill="#000"/>
<rect x="614.00" y="1389.00" width="1248.00" height="4.00" fill="#000"/>
<rect x="614.00" y="1478.00" width="1248.00" height="4.00" fill="#000"/>
<rect x="614.00" y="1567.00" width="1248.00" height="4.00" fill="#000"/>
<rect x="614.00" y="1656.00" width="1248.00" height="4.00" fill="#000"/>
<rect x="614.00" y="1705.00" width="1248.00" height="3.00" fill="#000"/>
<rect x="936.00" y="1083.00" width="2.00" height="6.00" fill="#000"/>
<rect x="936.00" y="1089.00" width="3.00" height="619.00" fill="#000"/>
<rect x="1029.00" y="1163.00" width="2.00" height="4.50" fill="#000"/>
<rect x="1029.00" y="1167.50" width="4.00" height="540.50" fill="#000"/>
<rect x="1123.00" y="1163.00" width="2.00" height="4.50" fill="#000"/>
<rect x="1123.00" y="1167.50" width="4.00" height="540.50" fill="#000"/>
<rect x="1234.00" y="1163.00" width="2.00" height="4.50" fill="#000"/>
<rect x="1234.00" y="1167.50" width="4.00" height="540.50" fill="#000"/>
<rect x="1312.00" y="1163.00" width="2.00" height="4.50" fill="#000"/>
<rect x="1312.00" y="1167.50" width="4.00" height="540.50" fill="#000"/>
<rect x="1390.00" y="1163.00" width="2.00" height="4.50" fill="#000"/>
<rect x="1390.00" y="1167.50" width="4.00" height="540.50" fill="#000"/>
<rect x="1484.00" y="1163.00" width="2.00" height="4.50" fill="#000"/>
<rect x="1484.00" y="1167.50" width="3.00" height="540.50" fill="#000"/>
<rect x="1577.00" y="1163.00" width="2.00" height="4.50" fill="#000"/>
<rect x="1577.00" y="1167.50" width="4.00" height="540.50" fill="#000"/>
<rect x="1655.00" y="1163.00" width="2.00" height="4.50" fill="#000"/>
<rect x="1655.00" y="1167.50" width="4.00" height="540.50" fill="#000"/>
<rect x="1749.00" y="1163.00" width="2.00" height="4.50" fill="#000"/>
<rect x="1749.00" y="1167.50" width="3.00" height="540.50" fill="#000"/>
<text transform="translate(954.49,1200.40) scale(1.06,1)" x="0" y="0" letter-spacing="0.575" font-family="Liberation Sans" font-weight="normal" font-style="normal" font-size="28" fill="#000" stroke="#000" stroke-width="0.943" stroke-linejoin="round">C90</text>
<text transform="translate(1047.57,1200.40) scale(1.06,1)" x="0" y="0" letter-spacing="1.013" font-family="Liberation Sans" font-weight="normal" font-style="normal" font-size="28" fill="#000" stroke="#000" stroke-width="0.943" stroke-linejoin="round">D10</text>
<text transform="translate(1150.07,1200.40) scale(1.06,1)" x="0" y="0" letter-spacing="1.013" font-family="Liberation Sans" font-weight="normal" font-style="normal" font-size="28" fill="#000" stroke="#000" stroke-width="0.943" stroke-linejoin="round">D90</text>
<text transform="translate(1244.57,1200.40) scale(1.06,1)" x="0" y="0" letter-spacing="1.013" font-family="Liberation Sans" font-weight="normal" font-style="normal" font-size="28" fill="#000" stroke="#000" stroke-width="0.943" stroke-linejoin="round">N10</text>
<text transform="translate(1322.57,1200.40) scale(1.06,1)" x="0" y="0" letter-spacing="1.013" font-family="Liberation Sans" font-weight="normal" font-style="normal" font-size="28" fill="#000" stroke="#000" stroke-width="0.943" stroke-linejoin="round">N20</text>
<text transform="translate(1408.57,1200.40) scale(1.06,1)" x="0" y="0" letter-spacing="1.013" font-family="Liberation Sans" font-weight="normal" font-style="normal" font-size="28" fill="#000" stroke="#000" stroke-width="0.943" stroke-linejoin="round">N30</text>
<text transform="translate(1501.57,1200.40) scale(1.06,1)" x="0" y="0" letter-spacing="1.013" font-family="Liberation Sans" font-weight="normal" font-style="normal" font-size="28" fill="#000" stroke="#000" stroke-width="0.943" stroke-linejoin="round">N40</text>
<text transform="translate(1587.57,1200.40) scale(1.06,1)" x="0" y="0" letter-spacing="1.013" font-family="Liberation Sans" font-weight="normal" font-style="normal" font-size="28" fill="#000" stroke="#000" stroke-width="0.943" stroke-linejoin="round">N50</text>
<text transform="translate(1673.57,1200.40) scale(1.06,1)" x="0" y="0" letter-spacing="1.013" font-family="Liberation Sans" font-weight="normal" font-style="normal" font-size="28" fill="#000" stroke="#000" stroke-width="0.943" stroke-linejoin="round">N90</text>
<text transform="translate(1766.68,1200.40) scale(1.06,1)" x="0" y="0" letter-spacing="1.243" font-family="Liberation Sans" font-weight="normal" font-style="normal" font-size="28" fill="#000" stroke="#000" stroke-width="0.943" stroke-linejoin="round">Total</text>
<text x="622.81" y="1247.00" font-family="Liberation Sans" font-weight="normal" font-style="normal" font-size="27" textLength="207.83" lengthAdjust="spacingAndGlyphs" fill="#000">Pregnant Women</text>
<text x="622.82" y="1336.00" font-family="Liberation Sans" font-weight="normal" font-style="normal" font-size="27" textLength="262.40" lengthAdjust="spacingAndGlyphs" fill="#000">Breastfeeding Women</text>
<text x="622.79" y="1424.20" font-family="Liberation Sans" font-weight="normal" font-style="normal" font-size="27" textLength="238.47" lengthAdjust="spacingAndGlyphs" fill="#000">Postpartum Women</text>
<text x="622.39" y="1513.00" font-family="Liberation Sans" font-weight="normal" font-style="normal" font-size="27" textLength="211.13" lengthAdjust="spacingAndGlyphs" fill="#000">Infants (&lt; 12 mos)</text>
<text x="623.47" y="1602.20" font-family="Liberation Sans" font-weight="normal" font-style="normal" font-size="27" textLength="245.25" lengthAdjust="spacingAndGlyphs" fill="#000">Children (12-59 mos)</text>
<text x="623.70" y="1691.00" font-family="Liberation Sans" font-weight="normal" font-style="normal" font-size="27" textLength="58.97" lengthAdjust="spacingAndGlyphs" fill="#000">Total</text>
<text x="971.42" y="1247.00" font-family="Liberation Sans" font-weight="normal" font-style="normal" font-size="30" textLength="48.45" lengthAdjust="spacingAndGlyphs" fill="#000">166</text>
<text x="980.75" y="1287.00" font-family="Liberation Sans" font-weight="normal" font-style="normal" font-size="30" textLength="40.37" lengthAdjust="spacingAndGlyphs" fill="#000">2.5</text>
<text x="1065.28" y="1247.00" font-family="Liberation Sans" font-weight="normal" font-style="normal" font-size="30" textLength="48.45" lengthAdjust="spacingAndGlyphs" fill="#000">180</text>
<text x="1074.99" y="1287.00" font-family="Liberation Sans" font-weight="normal" font-style="normal" font-size="30" textLength="40.37" lengthAdjust="spacingAndGlyphs" fill="#000">2.7</text>
<text x="1176.57" y="1247.00" font-family="Liberation Sans" font-weight="normal" font-style="normal" font-size="30" textLength="48.45" lengthAdjust="spacingAndGlyphs" fill="#000">311</text>
<text x="1185.99" y="1287.00" font-family="Liberation Sans" font-weight="normal" font-style="normal" font-size="30" textLength="40.37" lengthAdjust="spacingAndGlyphs" fill="#000">4.7</text>
<text x="1288.18" y="1247.00" font-family="Liberation Sans" font-weight="normal" font-style="normal" font-size="30" textLength="16.15" lengthAdjust="spacingAndGlyphs" fill="#000">0</text>
<text x="1263.66" y="1287.00" font-family="Liberation Sans" font-weight="normal" font-style="normal" font-size="30" textLength="40.37" lengthAdjust="spacingAndGlyphs" fill="#000">0.0</text>
<text x="1349.86" y="1247.00" font-family="Liberation Sans" font-weight="normal" font-style="normal" font-size="30" textLength="32.30" lengthAdjust="spacingAndGlyphs" fill="#000">18</text>
<text x="1341.81" y="1287.00" font-family="Liberation Sans" font-weight="normal" font-style="normal" font-size="30" textLength="40.37" lengthAdjust="spacingAndGlyphs" fill="#000">0.3</text>
<text x="1443.45" y="1247.00" font-family="Liberation Sans" font-weight="normal" font-style="normal" font-size="30" textLength="32.30" lengthAdjust="spacingAndGlyphs" fill="#000">14</text>
<text x="1435.99" y="1287.00" font-family="Liberation Sans" font-weight="normal" font-style="normal" font-size="30" textLength="40.37" lengthAdjust="spacingAndGlyphs" fill="#000">0.2</text>
<text x="1553.18" y="1247.00" font-family="Liberation Sans" font-weight="normal" font-style="normal" font-size="30" textLength="16.15" lengthAdjust="spacingAndGlyphs" fill="#000">0</text>
<text x="1528.66" y="1287.00" font-family="Liberation Sans" font-weight="normal" font-style="normal" font-size="30" textLength="40.37" lengthAdjust="spacingAndGlyphs" fill="#000">0.0</text>
<text x="1615.02" y="1247.00" font-family="Liberation Sans" font-weight="normal" font-style="normal" font-size="30" textLength="32.30" lengthAdjust="spacingAndGlyphs" fill="#000">11</text>
<text x="1606.99" y="1287.00" font-family="Liberation Sans" font-weight="normal" font-style="normal" font-size="30" textLength="40.37" lengthAdjust="spacingAndGlyphs" fill="#000">0.2</text>
<text x="1691.42" y="1247.00" font-family="Liberation Sans" font-weight="normal" font-style="normal" font-size="30" textLength="48.45" lengthAdjust="spacingAndGlyphs" fill="#000">163</text>
<text x="1700.75" y="1287.00" font-family="Liberation Sans" font-weight="normal" font-style="normal" font-size="30" textLength="40.37" lengthAdjust="spacingAndGlyphs" fill="#000">2.5</text>
<text x="1776.09" y="1247.00" font-family="Liberation Sans" font-weight="normal" font-style="normal" font-size="30" textLength="72.67" lengthAdjust="spacingAndGlyphs" fill="#000">6,637</text>
<text x="971.61" y="1336.00" font-family="Liberation Sans" font-weight="normal" font-style="normal" font-size="30" textLength="48.45" lengthAdjust="spacingAndGlyphs" fill="#000">162</text>
<text x="980.99" y="1376.00" font-family="Liberation Sans" font-weight="normal" font-style="normal" font-size="30" textLength="40.37" lengthAdjust="spacingAndGlyphs" fill="#000">1.7</text>
<text x="1065.61" y="1336.00" font-family="Liberation Sans" font-weight="normal" font-style="normal" font-size="30" textLength="48.45" lengthAdjust="spacingAndGlyphs" fill="#000">102</text>
<text x="1074.95" y="1376.00" font-family="Liberation Sans" font-weight="normal" font-style="normal" font-size="30" textLength="40.37" lengthAdjust="spacingAndGlyphs" fill="#000">1.1</text>
<text x="1176.42" y="1336.00" font-family="Liberation Sans" font-weight="normal" font-style="normal" font-size="30" textLength="48.45" lengthAdjust="spacingAndGlyphs" fill="#000">386</text>
<text x="1185.66" y="1376.00" font-family="Liberation Sans" font-weight="normal" font-style="normal" font-size="30" textLength="40.37" lengthAdjust="spacingAndGlyphs" fill="#000">4.0</text>
<text x="1288.18" y="1336.00" font-family="Liberation Sans" font-weight="normal" font-style="normal" font-size="30" textLength="16.15" lengthAdjust="spacingAndGlyphs" fill="#000">0</text>
<text x="1263.66" y="1376.00" font-family="Liberation Sans" font-weight="normal" font-style="normal" font-size="30" textLength="40.37" lengthAdjust="spacingAndGlyphs" fill="#000">0.0</text>
<text x="1349.82" y="1336.00" font-family="Liberation Sans" font-weight="normal" font-style="normal" font-size="30" textLength="32.30" lengthAdjust="spacingAndGlyphs" fill="#000">35</text>
<text x="1341.38" y="1376.00" font-family="Liberation Sans" font-weight="normal" font-style="normal" font-size="30" textLength="40.37" lengthAdjust="spacingAndGlyphs" fill="#000">0.4</text>
<text x="1400.61" y="1336.00" font-family="Liberation Sans" font-weight="normal" font-style="normal" font-size="30" textLength="72.67" lengthAdjust="spacingAndGlyphs" fill="#000">2,303</text>
<text x="1418.21" y="1376.00" font-family="Liberation Sans" font-weight="normal" font-style="normal" font-size="30" textLength="56.52" lengthAdjust="spacingAndGlyphs" fill="#000">24.0</text>
<text x="1553.18" y="1336.00" font-family="Liberation Sans" font-weight="normal" font-style="normal" font-size="30" textLength="16.15" lengthAdjust="spacingAndGlyphs" fill="#000">0</text>
<text x="1528.66" y="1376.00" font-family="Liberation Sans" font-weight="normal" font-style="normal" font-size="30" textLength="40.37" lengthAdjust="spacingAndGlyphs" fill="#000">0.0</text>
<text x="1631.42" y="1336.00" font-family="Liberation Sans" font-weight="normal" font-style="normal" font-size="30" textLength="16.15" lengthAdjust="spacingAndGlyphs" fill="#000">9</text>
<text x="1606.95" y="1376.00" font-family="Liberation Sans" font-weight="normal" font-style="normal" font-size="30" textLength="40.37" lengthAdjust="spacingAndGlyphs" fill="#000">0.1</text>
<text x="1709.06" y="1336.00" font-family="Liberation Sans" font-weight="normal" font-style="normal" font-size="30" textLength="32.30" lengthAdjust="spacingAndGlyphs" fill="#000">37</text>
<text x="1700.38" y="1376.00" font-family="Liberation Sans" font-weight="normal" font-style="normal" font-size="30" textLength="40.37" lengthAdjust="spacingAndGlyphs" fill="#000">0.4</text>
<text x="1775.76" y="1336.00" font-family="Liberation Sans" font-weight="normal" font-style="normal" font-size="30" textLength="72.67" lengthAdjust="spacingAndGlyphs" fill="#000">9,590</text>
<text x="971.28" y="1424.20" font-family="Liberation Sans" font-weight="normal" font-style="normal" font-size="30" textLength="48.45" lengthAdjust="spacingAndGlyphs" fill="#000">100</text>
<text x="980.38" y="1464.20" font-family="Liberation Sans" font-weight="normal" font-style="normal" font-size="30" textLength="40.37" lengthAdjust="spacingAndGlyphs" fill="#000">1.4</text>
<text x="1065.42" y="1424.20" font-family="Liberation Sans" font-weight="normal" font-style="normal" font-size="30" textLength="48.45" lengthAdjust="spacingAndGlyphs" fill="#000">146</text>
<text x="1074.95" y="1464.20" font-family="Liberation Sans" font-weight="normal" font-style="normal" font-size="30" textLength="40.37" lengthAdjust="spacingAndGlyphs" fill="#000">2.1</text>
<text x="1176.42" y="1424.20" font-family="Liberation Sans" font-weight="normal" font-style="normal" font-size="30" textLength="48.45" lengthAdjust="spacingAndGlyphs" fill="#000">446</text>
<text x="1185.75" y="1464.20" font-family="Liberation Sans" font-weight="normal" font-style="normal" font-size="30" textLength="40.37" lengthAdjust="spacingAndGlyphs" fill="#000">6.5</text>
<text x="1288.51" y="1424.20" font-family="Liberation Sans" font-weight="normal" font-style="normal" font-size="30" textLength="16.15" lengthAdjust="spacingAndGlyphs" fill="#000">2</text>
<text x="1263.66" y="1464.20" font-family="Liberation Sans" font-weight="normal" font-style="normal" font-size="30" textLength="40.37" lengthAdjust="spacingAndGlyphs" fill="#000">0.0</text>
<text x="1350.06" y="1424.20" font-family="Liberation Sans" font-weight="normal" font-style="normal" font-size="30" textLength="32.30" lengthAdjust="spacingAndGlyphs" fill="#000">27</text>
<text x="1341.38" y="1464.20" font-family="Liberation Sans" font-weight="normal" font-style="normal" font-size="30" textLength="40.37" lengthAdjust="spacingAndGlyphs" fill="#000">0.4</text>
<text x="1426.61" y="1424.20" font-family="Liberation Sans" font-weight="normal" font-style="normal" font-size="30" textLength="48.45" lengthAdjust="spacingAndGlyphs" fill="#000">482</text>
<text x="1435.66" y="1464.20" font-family="Liberation Sans" font-weight="normal" font-style="normal" font-size="30" textLength="40.37" lengthAdjust="spacingAndGlyphs" fill="#000">7.0</text>
<text x="1553.18" y="1424.20" font-family="Liberation Sans" font-weight="normal" font-style="normal" font-size="30" textLength="16.15" lengthAdjust="spacingAndGlyphs" fill="#000">0</text>
<text x="1528.66" y="1464.20" font-family="Liberation Sans" font-weight="normal" font-style="normal" font-size="30" textLength="40.37" lengthAdjust="spacingAndGlyphs" fill="#000">0.0</text>
<text x="1631.33" y="1424.20" font-family="Liberation Sans" font-weight="normal" font-style="normal" font-size="30" textLength="16.15" lengthAdjust="spacingAndGlyphs" fill="#000">6</text>
<text x="1606.95" y="1464.20" font-family="Liberation Sans" font-weight="normal" font-style="normal" font-size="30" textLength="40.37" lengthAdjust="spacingAndGlyphs" fill="#000">0.1</text>
<text x="1708.73" y="1424.20" font-family="Liberation Sans" font-weight="normal" font-style="normal" font-size="30" textLength="32.30" lengthAdjust="spacingAndGlyphs" fill="#000">60</text>
<text x="1700.91" y="1464.20" font-family="Liberation Sans" font-weight="normal" font-style="normal" font-size="30" textLength="40.37" lengthAdjust="spacingAndGlyphs" fill="#000">0.9</text>
<text x="1776.05" y="1424.20" font-family="Liberation Sans" font-weight="normal" font-style="normal" font-size="30" textLength="72.67" lengthAdjust="spacingAndGlyphs" fill="#000">6,901</text>
<text x="988.73" y="1513.00" font-family="Liberation Sans" font-weight="normal" font-style="normal" font-size="30" textLength="32.30" lengthAdjust="spacingAndGlyphs" fill="#000">10</text>
<text x="980.66" y="1553.00" font-family="Liberation Sans" font-weight="normal" font-style="normal" font-size="30" textLength="40.37" lengthAdjust="spacingAndGlyphs" fill="#000">0.0</text>
<text x="1099.18" y="1513.00" font-family="Liberation Sans" font-weight="normal" font-style="normal" font-size="30" textLength="16.15" lengthAdjust="spacingAndGlyphs" fill="#000">0</text>
<text x="1074.66" y="1553.00" font-family="Liberation Sans" font-weight="normal" font-style="normal" font-size="30" textLength="40.37" lengthAdjust="spacingAndGlyphs" fill="#000">0.0</text>
<text x="1150.18" y="1513.00" font-family="Liberation Sans" font-weight="normal" font-style="normal" font-size="30" textLength="72.67" lengthAdjust="spacingAndGlyphs" fill="#000">1,684</text>
<text x="1185.75" y="1553.00" font-family="Liberation Sans" font-weight="normal" font-style="normal" font-size="30" textLength="40.37" lengthAdjust="spacingAndGlyphs" fill="#000">7.5</text>
<text x="1271.73" y="1513.00" font-family="Liberation Sans" font-weight="normal" font-style="normal" font-size="30" textLength="32.30" lengthAdjust="spacingAndGlyphs" fill="#000">10</text>
<text x="1263.66" y="1553.00" font-family="Liberation Sans" font-weight="normal" font-style="normal" font-size="30" textLength="40.37" lengthAdjust="spacingAndGlyphs" fill="#000">0.0</text>
<text x="1332.41" y="1513.00" font-family="Liberation Sans" font-weight="normal" font-style="normal" font-size="30" textLength="48.45" lengthAdjust="spacingAndGlyphs" fill="#000">118</text>
<text x="1341.75" y="1553.00" font-family="Liberation Sans" font-weight="normal" font-style="normal" font-size="30" textLength="40.37" lengthAdjust="spacingAndGlyphs" fill="#000">0.5</text>
<text x="1426.61" y="1513.00" font-family="Liberation Sans" font-weight="normal" font-style="normal" font-size="30" textLength="48.45" lengthAdjust="spacingAndGlyphs" fill="#000">467</text>
<text x="1435.95" y="1553.00" font-family="Liberation Sans" font-weight="normal" font-style="normal" font-size="30" textLength="40.37" lengthAdjust="spacingAndGlyphs" fill="#000">2.1</text>
<text x="1493.18" y="1513.00" font-family="Liberation Sans" font-weight="normal" font-style="normal" font-size="30" textLength="72.67" lengthAdjust="spacingAndGlyphs" fill="#000">9,924</text>
<text x="1511.36" y="1553.00" font-family="Liberation Sans" font-weight="normal" font-style="normal" font-size="30" textLength="56.52" lengthAdjust="spacingAndGlyphs" fill="#000">44.3</text>
<text x="1614.82" y="1513.00" font-family="Liberation Sans" font-weight="normal" font-style="normal" font-size="30" textLength="32.30" lengthAdjust="spacingAndGlyphs" fill="#000">25</text>
<text x="1606.95" y="1553.00" font-family="Liberation Sans" font-weight="normal" font-style="normal" font-size="30" textLength="40.37" lengthAdjust="spacingAndGlyphs" fill="#000">0.1</text>
<text x="1691.28" y="1513.00" font-family="Liberation Sans" font-weight="normal" font-style="normal" font-size="30" textLength="48.45" lengthAdjust="spacingAndGlyphs" fill="#000">300</text>
<text x="1700.81" y="1553.00" font-family="Liberation Sans" font-weight="normal" font-style="normal" font-size="30" textLength="40.37" lengthAdjust="spacingAndGlyphs" fill="#000">1.3</text>
<text x="1758.24" y="1513.00" font-family="Liberation Sans" font-weight="normal" font-style="normal" font-size="30" textLength="88.82" lengthAdjust="spacingAndGlyphs" fill="#000">22,388</text>
<text x="971.00" y="1602.20" font-family="Liberation Sans" font-weight="normal" font-style="normal" font-size="30" textLength="48.45" lengthAdjust="spacingAndGlyphs" fill="#000">574</text>
<text x="980.38" y="1642.20" font-family="Liberation Sans" font-weight="normal" font-style="normal" font-size="30" textLength="40.37" lengthAdjust="spacingAndGlyphs" fill="#000">1.4</text>
<text x="1039.55" y="1602.20" font-family="Liberation Sans" font-weight="normal" font-style="normal" font-size="30" textLength="72.67" lengthAdjust="spacingAndGlyphs" fill="#000">2,825</text>
<text x="1074.66" y="1642.20" font-family="Liberation Sans" font-weight="normal" font-style="normal" font-size="30" textLength="40.37" lengthAdjust="spacingAndGlyphs" fill="#000">7.0</text>
<text x="1133.05" y="1602.20" font-family="Liberation Sans" font-weight="normal" font-style="normal" font-size="30" textLength="88.82" lengthAdjust="spacingAndGlyphs" fill="#000">13,339</text>
<text x="1168.46" y="1642.20" font-family="Liberation Sans" font-weight="normal" font-style="normal" font-size="30" textLength="56.52" lengthAdjust="spacingAndGlyphs" fill="#000">32.9</text>
<text x="1254.57" y="1602.20" font-family="Liberation Sans" font-weight="normal" font-style="normal" font-size="30" textLength="48.45" lengthAdjust="spacingAndGlyphs" fill="#000">181</text>
<text x="1263.38" y="1642.20" font-family="Liberation Sans" font-weight="normal" font-style="normal" font-size="30" textLength="40.37" lengthAdjust="spacingAndGlyphs" fill="#000">0.4</text>
<text x="1332.28" y="1602.20" font-family="Liberation Sans" font-weight="normal" font-style="normal" font-size="30" textLength="48.45" lengthAdjust="spacingAndGlyphs" fill="#000">150</text>
<text x="1341.38" y="1642.20" font-family="Liberation Sans" font-weight="normal" font-style="normal" font-size="30" textLength="40.37" lengthAdjust="spacingAndGlyphs" fill="#000">0.4</text>
<text x="1460.18" y="1602.20" font-family="Liberation Sans" font-weight="normal" font-style="normal" font-size="30" textLength="16.15" lengthAdjust="spacingAndGlyphs" fill="#000">0</text>
<text x="1435.66" y="1642.20" font-family="Liberation Sans" font-weight="normal" font-style="normal" font-size="30" textLength="40.37" lengthAdjust="spacingAndGlyphs" fill="#000">0.0</text>
<text x="1553.18" y="1602.20" font-family="Liberation Sans" font-weight="normal" font-style="normal" font-size="30" textLength="16.15" lengthAdjust="spacingAndGlyphs" fill="#000">0</text>
<text x="1528.66" y="1642.20" font-family="Liberation Sans" font-weight="normal" font-style="normal" font-size="30" textLength="40.37" lengthAdjust="spacingAndGlyphs" fill="#000">0.0</text>
<text x="1614.86" y="1602.20" font-family="Liberation Sans" font-weight="normal" font-style="normal" font-size="30" textLength="32.30" lengthAdjust="spacingAndGlyphs" fill="#000">48</text>
<text x="1606.95" y="1642.20" font-family="Liberation Sans" font-weight="normal" font-style="normal" font-size="30" textLength="40.37" lengthAdjust="spacingAndGlyphs" fill="#000">0.1</text>
<text x="1691.37" y="1602.20" font-family="Liberation Sans" font-weight="normal" font-style="normal" font-size="30" textLength="48.45" lengthAdjust="spacingAndGlyphs" fill="#000">515</text>
<text x="1700.81" y="1642.20" font-family="Liberation Sans" font-weight="normal" font-style="normal" font-size="30" textLength="40.37" lengthAdjust="spacingAndGlyphs" fill="#000">1.3</text>
<text x="1758.44" y="1602.20" font-family="Liberation Sans" font-weight="normal" font-style="normal" font-size="30" textLength="88.82" lengthAdjust="spacingAndGlyphs" fill="#000">40,502</text>
<text x="945.79" y="1691.00" font-family="Liberation Sans" font-weight="normal" font-style="normal" font-size="30" textLength="72.67" lengthAdjust="spacingAndGlyphs" fill="#000">1,012</text>
<text x="1039.61" y="1691.00" font-family="Liberation Sans" font-weight="normal" font-style="normal" font-size="30" textLength="72.67" lengthAdjust="spacingAndGlyphs" fill="#000">3,253</text>
<text x="1132.95" y="1691.00" font-family="Liberation Sans" font-weight="normal" font-style="normal" font-size="30" textLength="88.82" lengthAdjust="spacingAndGlyphs" fill="#000">16,166</text>
<text x="1254.42" y="1691.00" font-family="Liberation Sans" font-weight="normal" font-style="normal" font-size="30" textLength="48.45" lengthAdjust="spacingAndGlyphs" fill="#000">193</text>
<text x="1332.41" y="1691.00" font-family="Liberation Sans" font-weight="normal" font-style="normal" font-size="30" textLength="48.45" lengthAdjust="spacingAndGlyphs" fill="#000">348</text>
<text x="1400.61" y="1691.00" font-family="Liberation Sans" font-weight="normal" font-style="normal" font-size="30" textLength="72.67" lengthAdjust="spacingAndGlyphs" fill="#000">3,266</text>
<text x="1493.18" y="1691.00" font-family="Liberation Sans" font-weight="normal" font-style="normal" font-size="30" textLength="72.67" lengthAdjust="spacingAndGlyphs" fill="#000">9,924</text>
<text x="1614.97" y="1691.00" font-family="Liberation Sans" font-weight="normal" font-style="normal" font-size="30" textLength="32.30" lengthAdjust="spacingAndGlyphs" fill="#000">99</text>
<text x="1665.55" y="1691.00" font-family="Liberation Sans" font-weight="normal" font-style="normal" font-size="30" textLength="72.67" lengthAdjust="spacingAndGlyphs" fill="#000">1,075</text>
<text x="1758.24" y="1691.00" font-family="Liberation Sans" font-weight="normal" font-style="normal" font-size="30" textLength="88.82" lengthAdjust="spacingAndGlyphs" fill="#000">86,018</text>
<path d="M1386 1387H1494V1491H1386Z M1397 1398V1480H1483V1398Z" fill="#E42038" fill-rule="evenodd"/>
<rect x="72" y="1139" width="360" height="301" fill="none" stroke="#E42038" stroke-width="4"/>
<text x="78.43" y="1170.20" font-family="Liberation Sans" font-weight="normal" font-style="normal" font-size="33" textLength="272.02" lengthAdjust="spacingAndGlyphs" fill="#E42038">About 7 percent of</text>
<text x="76.33" y="1213.30" font-family="Liberation Sans" font-weight="normal" font-style="normal" font-size="33" textLength="344.97" lengthAdjust="spacingAndGlyphs" fill="#E42038">postpartum women are</text>
<text x="77.10" y="1255.60" font-family="Liberation Sans" font-weight="normal" font-style="normal" font-size="33" textLength="345.46" lengthAdjust="spacingAndGlyphs" fill="#E42038">assigned nutritional risk</text>
<text x="77.12" y="1298.20" font-family="Liberation Sans" font-weight="normal" font-style="normal" font-size="33" textLength="318.19" lengthAdjust="spacingAndGlyphs" fill="#E42038">codes associated with</text>
<text x="77.12" y="1341.00" font-family="Liberation Sans" font-weight="normal" font-style="normal" font-size="33" textLength="326.75" lengthAdjust="spacingAndGlyphs" fill="#E42038">category N30, which is</text>
<text x="78.02" y="1383.60" font-family="Liberation Sans" font-weight="normal" font-style="normal" font-size="33" textLength="251.84" lengthAdjust="spacingAndGlyphs" fill="#E42038">for breastfeeding</text>
<text x="78.55" y="1426.50" font-family="Liberation Sans" font-weight="normal" font-style="normal" font-size="33" textLength="288.29" lengthAdjust="spacingAndGlyphs" fill="#E42038">women and infants.</text>
<polyline points="434,1290 473,1290 569,1436" fill="none" stroke="#E42038" stroke-width="3.2"/>
<polyline points="543.3,1423.8 569.5,1437 567.6,1407.8" fill="none" stroke="#E42038" stroke-width="3.2" stroke-linejoin="miter"/>
</svg></body></html>
